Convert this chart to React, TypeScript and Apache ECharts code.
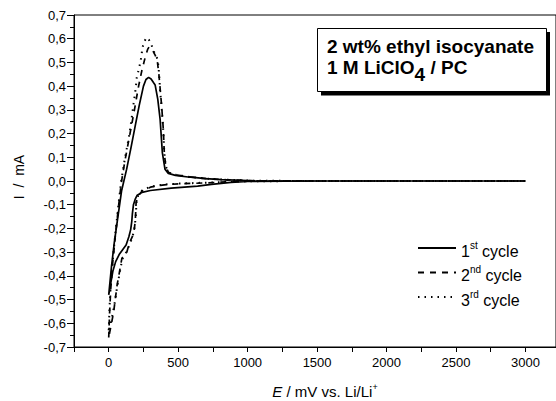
import { useEffect, useRef } from 'react';
import * as echarts from 'echarts';

// ---- data (E in mV vs. Li/Li+, I in mA) ----
const cycleNames = ['1st cycle', '2nd cycle', '3rd cycle'];
const cycleNumbers = ['1', '2', '3'];
const cycleSuffixes = ['st', 'nd', 'rd'];

// cycle 1 (solid) – anodic then cathodic branch
const c1AnodicE = [0, 20, 40, 64, 93, 129, 160, 190, 220, 250, 268, 287, 305, 322, 334, 353, 370, 386, 405, 429, 480, 570, 700, 810, 1050, 1500, 3000];
const c1AnodicI = [-0.48, -0.36, -0.26, -0.16, -0.04, 0.05, 0.14, 0.23, 0.32, 0.40, 0.428, 0.437, 0.43, 0.415, 0.405, 0.345, 0.26, 0.12, 0.05, 0.032, 0.024, 0.017, 0.01, 0.006, 0.001, 0, 0];
const c1CathodicE = [3000, 1500, 1000, 880, 740, 640, 450, 300, 240, 205, 190, 178, 170, 166, 158, 145, 125, 100, 75, 50, 30, 15, 0];
const c1CathodicI = [0, 0, -0.002, -0.006, -0.014, -0.022, -0.03, -0.04, -0.048, -0.06, -0.078, -0.1, -0.14, -0.17, -0.205, -0.235, -0.27, -0.29, -0.31, -0.34, -0.38, -0.43, -0.48];

// cycle 2 (dashed)
const c2AnodicE = [0, 6, 14, 28, 48, 70, 90, 115, 150, 185, 215, 240, 262, 280, 290, 300, 315, 335, 350, 361, 370, 381, 393, 400, 410, 430, 480, 570, 700, 850, 1050, 1500, 3000];
const c2AnodicI = [-0.66, -0.56, -0.46, -0.35, -0.23, -0.11, -0.01, 0.08, 0.19, 0.3, 0.4, 0.47, 0.52, 0.555, 0.565, 0.562, 0.552, 0.53, 0.505, 0.45, 0.39, 0.316, 0.218, 0.12, 0.063, 0.036, 0.026, 0.018, 0.01, 0.005, 0.001, 0, 0];
const c2CathodicE = [3000, 1500, 1000, 880, 700, 500, 400, 300, 240, 210, 197, 192, 185, 170, 150, 130, 110, 95, 80, 60, 48, 36, 20, 8, 0];
const c2CathodicI = [0, 0, -0.001, -0.003, -0.008, -0.012, -0.016, -0.026, -0.042, -0.065, -0.092, -0.16, -0.2, -0.235, -0.26, -0.3, -0.318, -0.325, -0.375, -0.44, -0.495, -0.55, -0.6, -0.635, -0.66];

// cycle 3 (dotted)
const c3AnodicE = [0, 6, 14, 28, 48, 70, 90, 115, 150, 180, 195, 202, 220, 234, 243, 258, 272, 290, 310, 322, 340, 353, 363, 370, 381, 393, 400, 410, 430, 480, 570, 700, 850, 1050, 1500, 3000];
const c3AnodicI = [-0.63, -0.53, -0.44, -0.34, -0.22, -0.1, 0, 0.09, 0.2, 0.33, 0.394, 0.437, 0.479, 0.521, 0.563, 0.59, 0.605, 0.595, 0.57, 0.549, 0.53, 0.51, 0.45, 0.38, 0.31, 0.21, 0.12, 0.063, 0.036, 0.026, 0.018, 0.01, 0.005, 0.001, 0, 0];
const c3CathodicE = [3000, 1500, 1000, 880, 700, 500, 400, 300, 240, 212, 200, 194, 186, 172, 152, 132, 112, 97, 86, 72, 57, 44, 32, 20, 10, 0];
const c3CathodicI = [0, 0, -0.001, -0.003, -0.007, -0.011, -0.015, -0.024, -0.04, -0.062, -0.09, -0.155, -0.195, -0.235, -0.265, -0.295, -0.315, -0.33, -0.365, -0.41, -0.46, -0.51, -0.55, -0.585, -0.61, -0.63];

const xMin = -250;
const xMax = 3220;
const xInterval = 250;
const xLabelStep = 500;
const yMin = -0.7;
const yMax = 0.7;
const yInterval = 0.1;

const FONT = '"Liberation Sans", Arial, Helvetica, sans-serif';

function pairs(e: number[], i: number[]) {
  return e.map((v, k) => [v, i[k]]);
}

export default function App() {
  const ref = useRef<HTMLDivElement>(null);

  useEffect(() => {
    document.body.style.margin = '0';
    if (!ref.current) return;
    const chart = echarts.init(ref.current, undefined, { renderer: 'svg' });

    const cycle1 = [...pairs(c1AnodicE, c1AnodicI), ...pairs(c1CathodicE, c1CathodicI)];
    const cycle2 = [...pairs(c2AnodicE, c2AnodicI), ...pairs(c2CathodicE, c2CathodicI)];
    const cycle3 = [...pairs(c3AnodicE, c3AnodicI), ...pairs(c3CathodicE, c3CathodicI)];

    const lineTypes: any[] = ['solid', [6, 6], [1.5, 5]];
    const datasets = [cycle1, cycle2, cycle3];

    chart.setOption({
      animation: false,
      backgroundColor: '#fff',
      grid: {
        left: 74,
        right: -3,
        top: 15,
        bottom: 54,
        show: true,
        borderColor: '#000',
        borderWidth: 1,
        backgroundColor: 'transparent',
      },
      xAxis: {
        type: 'value',
        min: xMin,
        max: xMax,
        interval: xInterval,
        axisLine: { show: true, onZero: false, lineStyle: { color: '#000', width: 1 } },
        axisTick: { show: true, inside: false, length: 5, lineStyle: { color: '#000' } },
        splitLine: { show: false },
        axisLabel: {
          margin: 9,
          color: '#000',
          fontSize: 13,
          fontFamily: FONT,
          showMinLabel: true,
          showMaxLabel: false,
          formatter: (v: number) => (v >= 0 && v % xLabelStep === 0 ? String(v) : ''),
        },
      },
      yAxis: {
        type: 'value',
        min: yMin,
        max: yMax,
        interval: yInterval,
        axisLine: { show: true, onZero: false, lineStyle: { color: '#000', width: 1 } },
        axisTick: { show: true, inside: false, length: 7, lineStyle: { color: '#000' } },
        minorTick: { show: true, splitNumber: 2, length: 4, lineStyle: { color: '#000' } },
        splitLine: { show: false },
        axisLabel: {
          margin: 8,
          color: '#000',
          fontSize: 13,
          fontFamily: FONT,
          showMinLabel: true,
          showMaxLabel: true,
          formatter: (v: number) => (Math.abs(v) < 1e-9 ? '0,0' : v.toFixed(1).replace('.', ',')),
        },
      },
      legend: {
        orient: 'vertical',
        left: 417,
        top: 237,
        padding: 0,
        itemWidth: 38,
        itemHeight: 14,
        itemGap: 2.5,
        data: cycleNames,
        itemStyle: { opacity: 0, borderWidth: 0 },
        formatter: (name: string) => {
          const k = cycleNames.indexOf(name);
          return `{n|${cycleNumbers[k]}}{s|${cycleSuffixes[k]}}{n| cycle}`;
        },
        textStyle: {
          color: '#000',
          fontFamily: FONT,
          rich: {
            n: { fontSize: 16, lineHeight: 22, verticalAlign: 'bottom', fontFamily: FONT, color: '#000' },
            s: { fontSize: 10, lineHeight: 12, padding: [3, 0, 0, 0], verticalAlign: 'top', fontFamily: FONT, color: '#000' },
          },
        },
      },
      series: datasets.map((d, k) => ({
        name: cycleNames[k],
        type: 'line',
        data: d,
        symbol: 'none',
        showSymbol: false,
        smooth: false,
        lineStyle: { color: '#000', width: k === 2 ? 2 : 1.7, type: lineTypes[k] },
        itemStyle: { color: '#000' },
        emphasis: { disabled: true },
        z: 3 - k,
      })),
      graphic: [
        {
          type: 'rect',
          shape: { x: 321, y: 32, width: 229, height: 63.5 },
          style: { fill: '#000' },
          z: 10,
        },
        {
          type: 'rect',
          shape: { x: 317.5, y: 28.5, width: 229, height: 63 },
          style: { fill: '#fff', stroke: '#000', lineWidth: 1 },
          z: 11,
        },
        {
          type: 'text',
          x: 327,
          y: 46,
          z: 12,
          style: {
            text: '2 wt% ethyl isocyanate',
            fill: '#000',
            font: `bold 19px ${FONT}`,
            verticalAlign: 'middle',
            align: 'left',
          },
        },
        {
          type: 'text',
          x: 327,
          y: 58,
          z: 12,
          style: {
            text: '{a|1 M LiClO}{b|4}{a| / PC}',
            fill: '#000',
            verticalAlign: 'top',
            align: 'left',
            rich: {
              a: { fontSize: 19, fontWeight: 'bold', fontFamily: FONT, lineHeight: 23, verticalAlign: 'top', fill: '#000' },
              b: { fontSize: 19, fontWeight: 'bold', fontFamily: FONT, lineHeight: 33, verticalAlign: 'middle', fill: '#000' },
            },
          },
        },
        {
          type: 'text',
          x: 19,
          y: 177,
          rotation: Math.PI / 2,
          style: {
            text: 'I  /  mA',
            fill: '#000',
            font: `14px ${FONT}`,
            align: 'center',
            verticalAlign: 'middle',
          },
        },
        {
          type: 'text',
          x: 325,
          y: 390,
          style: {
            text: '{i|E}{n| / mV vs. Li/Li}{s|+}',
            align: 'center',
            verticalAlign: 'middle',
            rich: {
              i: { fontSize: 15, fontStyle: 'italic', fontFamily: FONT, lineHeight: 17, verticalAlign: 'bottom', fill: '#000' },
              n: { fontSize: 15, fontFamily: FONT, lineHeight: 17, verticalAlign: 'bottom', fill: '#000' },
              s: { fontSize: 9, fontFamily: FONT, lineHeight: 10, padding: [1, 0, 0, 0], verticalAlign: 'top', fill: '#000' },
            },
          },
        },
      ],
    });

    return () => chart.dispose();
  }, []);

  return (
    <div
      ref={ref}
      style={{ position: 'absolute', left: 0, top: 0, width: 556, height: 401 }}
    />
  );
}
